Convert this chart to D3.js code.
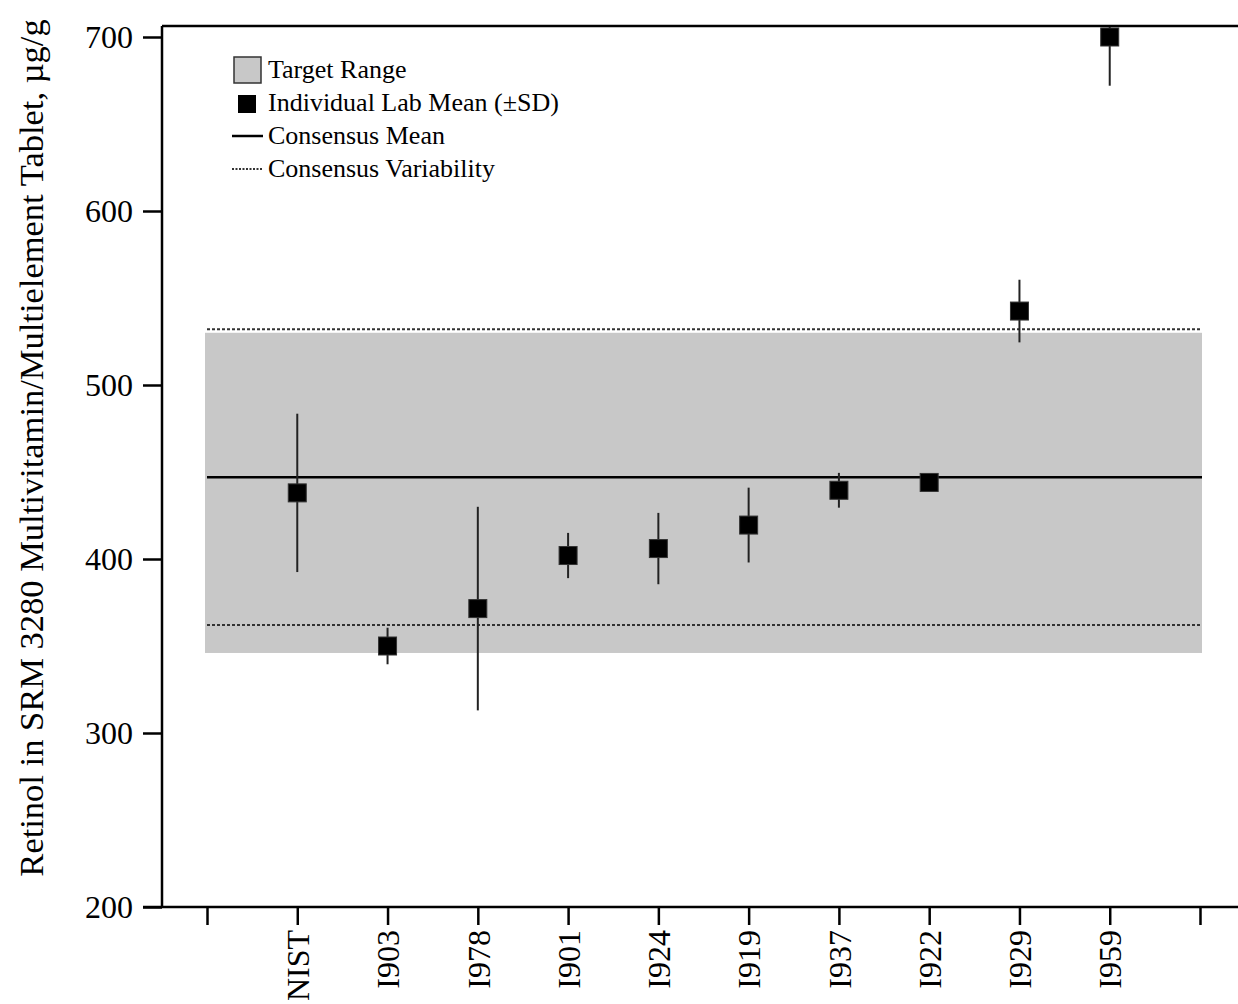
<!DOCTYPE html>
<html>
<head>
<meta charset="utf-8">
<script src="https://cdn.jsdelivr.net/npm/d3@7"></script>
<style>
  html, body { margin: 0; padding: 0; background: #fff; }
  svg { display: block; font-family: "Liberation Serif", "Times New Roman", serif; }
</style>
</head>
<body>
<svg id="chart" width="1238" height="1004"></svg>
<script>
// Laboratories, in plotted order
const labs = ["NIST", "I903", "I978", "I901", "I924", "I919", "I937", "I922", "I929", "I959"];
// Individual lab means and standard deviations, µg/g
const labMeans = [438, 350, 371.5, 402, 406, 419.5, 439.5, 444, 542.5, 700];
const labSDs = [45.5, 10.5, 58.5, 13, 20.5, 21.5, 10, 1.5, 18, 28];
// Consensus values, µg/g
const consensusMean = [447];
const consensusVariability = [362, 532];
const targetRange = [346, 530];
// Axis ticks
const yTicks = [200, 300, 400, 500, 600, 700];
const legendItems = ["Target Range", "Individual Lab Mean (\u00B1SD)", "Consensus Mean", "Consensus Variability"];

const svg = d3.select("#chart");
const W = 1238, H = 1004;
const plotLeft = 162, plotTop = 26, plotBottom = 907;

const y = d3.scaleLinear().domain([200, 700]).range([plotBottom, 37]);
const x = d3.scaleLinear().domain([0, labs.length + 1]).range([207, 1200]);

svg.append("defs").append("clipPath").attr("id", "plotClip")
  .append("rect").attr("x", plotLeft).attr("y", plotTop)
  .attr("width", W - plotLeft).attr("height", plotBottom - plotTop);

const plot = svg.append("g").attr("clip-path", "url(#plotClip)");

// target range band
plot.append("rect")
  .attr("x", x(0) - 2).attr("width", x(labs.length + 1) - x(0) + 4)
  .attr("y", y(targetRange[1])).attr("height", y(targetRange[0]) - y(targetRange[1]))
  .attr("fill", "#c8c8c8");

// consensus variability
plot.selectAll(".var").data(consensusVariability).enter().append("line")
  .attr("x1", x(0)).attr("x2", x(labs.length + 1))
  .attr("y1", d => y(d)).attr("y2", d => y(d))
  .attr("stroke", "#333").attr("stroke-width", 2).attr("stroke-dasharray", "3,2");

// consensus mean
plot.selectAll(".mean").data(consensusMean).enter().append("line")
  .attr("x1", x(0)).attr("x2", x(labs.length + 1) + 2)
  .attr("y1", d => y(d)).attr("y2", d => y(d))
  .attr("stroke", "#000").attr("stroke-width", 2.5);

// error bars
plot.selectAll(".err").data(labs).enter().append("line")
  .attr("x1", (d, i) => x(i + 1)).attr("x2", (d, i) => x(i + 1))
  .attr("y1", (d, i) => y(labMeans[i] + labSDs[i]))
  .attr("y2", (d, i) => y(labMeans[i] - labSDs[i]))
  .attr("stroke", "#222").attr("stroke-width", 2);

// lab means
const sq = 18;
plot.selectAll(".pt").data(labs).enter().append("rect")
  .attr("x", (d, i) => x(i + 1) - sq / 2)
  .attr("y", (d, i) => y(labMeans[i]) - sq / 2)
  .attr("width", sq).attr("height", sq)
  .attr("fill", "#000").attr("stroke", "#333").attr("stroke-width", 1);

// frame: top line, left axis, bottom axis
svg.append("line").attr("x1", plotLeft).attr("x2", W).attr("y1", plotTop).attr("y2", plotTop)
  .attr("stroke", "#000").attr("stroke-width", 2.5);
svg.append("line").attr("x1", plotLeft).attr("x2", plotLeft).attr("y1", plotTop).attr("y2", plotBottom)
  .attr("stroke", "#000").attr("stroke-width", 2.5);
svg.append("line").attr("x1", 143).attr("x2", W).attr("y1", plotBottom).attr("y2", plotBottom)
  .attr("stroke", "#000").attr("stroke-width", 2.5);

// y axis
const yAxis = d3.axisLeft(y).tickValues(yTicks).tickSize(19).tickPadding(10);
const gy = svg.append("g").attr("transform", `translate(${plotLeft},0)`).call(yAxis);
gy.select(".domain").remove();
gy.selectAll(".tick line").attr("stroke", "#000").attr("stroke-width", 2.5);
gy.selectAll(".tick text").attr("font-size", 32).attr("fill", "#000")
  .attr("font-family", "Liberation Serif, Times New Roman, serif");

// x axis
const xAxis = d3.axisBottom(x).tickValues(d3.range(0, labs.length + 2))
  .tickSize(18).tickFormat(i => (i >= 1 && i <= labs.length) ? labs[i - 1] : "");
const gx = svg.append("g").attr("transform", `translate(0,${plotBottom})`).call(xAxis);
gx.select(".domain").remove();
gx.selectAll(".tick line").attr("stroke", "#000").attr("stroke-width", 2.5);
gx.selectAll(".tick text")
  .attr("font-size", 32).attr("fill", "#000")
  .attr("font-family", "Liberation Serif, Times New Roman, serif")
  .attr("text-anchor", "end")
  .attr("transform", "rotate(-90)")
  .attr("x", -23).attr("y", 0).attr("dy", "0.35em");

// y axis title
svg.append("text")
  .attr("transform", "translate(43,448) rotate(-90)")
  .attr("text-anchor", "middle")
  .attr("font-size", 34.5)
  .attr("fill", "#000")
  .text("Retinol in SRM 3280 Multivitamin/Multielement Tablet, \u00B5g/g");

// legend
const lg = svg.append("g").attr("font-size", 26).attr("fill", "#000");
const rowY = [78, 111, 144, 177];
lg.append("rect").attr("x", 234).attr("y", 57).attr("width", 27).attr("height", 26)
  .attr("fill", "#c8c8c8").attr("stroke", "#333").attr("stroke-width", 1.5);
lg.append("rect").attr("x", 238).attr("y", 95).attr("width", 18).attr("height", 18)
  .attr("fill", "#000");
lg.append("line").attr("x1", 232).attr("x2", 263).attr("y1", 136).attr("y2", 136)
  .attr("stroke", "#000").attr("stroke-width", 2.5);
lg.append("line").attr("x1", 232).attr("x2", 263).attr("y1", 169).attr("y2", 169)
  .attr("stroke", "#333").attr("stroke-width", 2).attr("stroke-dasharray", "2,1.5");
lg.selectAll(".lt").data(legendItems).enter().append("text")
  .attr("x", 268).attr("y", (d, i) => rowY[i])
  .text(d => d);
</script>
</body>
</html>
